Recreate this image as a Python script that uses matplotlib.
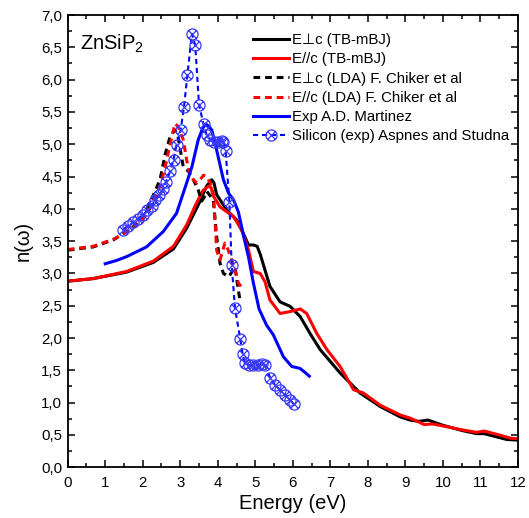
import matplotlib
matplotlib.use("Agg")
import matplotlib.pyplot as plt
from matplotlib.path import Path
from matplotlib.ticker import MultipleLocator, FuncFormatter

plt.rcParams['font.family'] = ['Liberation Sans', 'DejaVu Sans']
plt.rcParams['mathtext.fontset'] = 'custom'
plt.rcParams['mathtext.rm'] = 'Liberation Sans'
plt.rcParams['mathtext.it'] = 'Liberation Sans:italic'

# E perp c (TB-mBJ)
perp_x = [0, 0.68, 1.57, 2.28, 2.82, 3.17, 3.53, 3.70, 3.84, 3.90, 3.97, 4.24, 4.50, 4.68, 4.82,
          4.95, 5.05, 5.13, 5.39, 5.66, 5.93, 6.20, 6.46, 6.73, 7.26, 7.79, 8.33, 8.86, 9.13, 9.36,
          9.60, 9.80, 10.0, 10.5, 10.9, 11.1, 11.5, 11.7, 12.0]
perp_y = [2.88, 2.92, 3.02, 3.17, 3.38, 3.70, 4.12, 4.35, 4.45, 4.40, 4.22, 3.98, 3.83, 3.62, 3.44,
          3.44, 3.42, 3.30, 2.80, 2.56, 2.49, 2.33, 2.07, 1.82, 1.46, 1.15, 0.94, 0.78, 0.73, 0.71,
          0.73, 0.69, 0.65, 0.57, 0.52, 0.52, 0.46, 0.43, 0.42]

# E // c (TB-mBJ)
par_x = [0, 0.68, 1.57, 2.28, 2.82, 3.17, 3.40, 3.60, 3.75, 3.82, 3.88, 4.06, 4.42, 4.64, 4.82,
         4.95, 5.13, 5.26, 5.39, 5.66, 5.93, 6.20, 6.37, 6.64, 6.91, 7.26, 7.62, 7.88, 8.33, 8.86,
         9.13, 9.36, 9.50, 9.72, 10.0, 10.5, 10.9, 11.1, 11.5, 11.8, 12.0]
par_y = [2.88, 2.92, 3.03, 3.19, 3.42, 3.75, 4.05, 4.28, 4.35, 4.33, 4.20, 4.03, 3.88, 3.67, 3.36,
         3.03, 3.00, 2.87, 2.59, 2.38, 2.41, 2.45, 2.38, 2.07, 1.82, 1.56, 1.20, 1.15, 0.96, 0.81,
         0.76, 0.70, 0.66, 0.67, 0.64, 0.58, 0.54, 0.56, 0.50, 0.45, 0.44]

# E perp c (LDA) Chiker
lda_perp_x = [0, 0.68, 1.22, 1.57, 1.93, 2.19, 2.46, 2.60, 2.73, 2.86, 2.95, 3.08, 3.22, 3.35,
              3.48, 3.57, 3.64, 3.71, 3.80, 3.88, 3.97, 4.06, 4.15, 4.30, 4.40, 4.46, 4.52, 4.60]
lda_perp_y = [3.36, 3.41, 3.52, 3.65, 3.80, 4.09, 4.45, 4.85, 5.12, 5.22, 5.09, 4.65, 4.58, 4.45,
              4.29, 4.12, 4.18, 4.27, 4.20, 4.14, 3.57, 3.16, 3.00, 2.95, 3.05, 3.10, 2.85, 2.55]

# E // c (LDA) Chiker
lda_par_x = [0, 0.68, 1.22, 1.57, 1.93, 2.19, 2.46, 2.60, 2.73, 2.86, 2.95, 3.08, 3.17, 3.26,
             3.35, 3.44, 3.53, 3.62, 3.70, 3.80, 3.88, 3.93, 3.97, 4.06, 4.19, 4.28, 4.37, 4.46,
             4.55, 4.62]
lda_par_y = [3.37, 3.42, 3.53, 3.64, 3.78, 4.00, 4.35, 4.65, 5.00, 5.32, 5.27, 5.07, 4.76, 4.50,
             4.45, 4.40, 4.45, 4.52, 4.50, 4.40, 4.24, 3.78, 3.36, 3.21, 3.47, 3.36, 3.21, 3.05,
             2.85, 2.80]

# Exp A.D. Martinez
exp_x = [1.0, 1.3, 1.57, 2.1, 2.55, 2.9, 3.17, 3.31, 3.48, 3.60, 3.68, 3.76, 3.84, 3.97, 4.15,
         4.29, 4.42, 4.55, 4.70, 4.82, 4.95, 5.10, 5.30, 5.48, 5.75, 5.97, 6.19, 6.30, 6.44]
exp_y = [3.15, 3.20, 3.26, 3.41, 3.65, 3.93, 4.40, 4.65, 5.07, 5.25, 5.31, 5.28, 5.22, 4.91, 4.45,
         4.24, 4.14, 3.95, 3.55, 3.25, 2.85, 2.45, 2.20, 2.05, 1.71, 1.56, 1.53, 1.48, 1.41]

# Silicon (exp) Aspnes and Studna
si_x = [1.48, 1.62, 1.75, 1.88, 2.02, 2.12, 2.24, 2.33, 2.44, 2.53, 2.62, 2.73, 2.82, 2.90, 3.01,
        3.10, 3.19, 3.31, 3.40, 3.50, 3.62, 3.70, 3.80, 3.90, 4.00, 4.10, 4.15, 4.21, 4.31, 4.37,
        4.46, 4.60, 4.66, 4.72, 4.82, 4.95, 5.08, 5.17, 5.26, 5.40, 5.53, 5.66, 5.80, 5.93, 6.02]
si_y = [3.68, 3.74, 3.79, 3.85, 3.91, 3.98, 4.04, 4.13, 4.21, 4.30, 4.42, 4.58, 4.76, 4.99, 5.22,
        5.58, 6.07, 6.71, 6.53, 5.61, 5.31, 5.15, 5.07, 5.04, 5.03, 5.05, 5.04, 4.89, 4.10, 3.13,
        2.46, 1.98, 1.76, 1.62, 1.58, 1.58, 1.58, 1.60, 1.58, 1.38, 1.27, 1.20, 1.12, 1.04, 0.98]

labels = ['E\u22a5c (TB-mBJ)', 'E//c (TB-mBJ)', 'E\u22a5c (LDA) F. Chiker et al',
          'E//c (LDA) F. Chiker et al', 'Exp A.D. Martinez', 'Silicon (exp) Aspnes and Studna']

circ = Path.unit_circle()
cross = Path([(-0.707, -0.707), (0.707, 0.707), (-0.707, 0.707), (0.707, -0.707)],
             [Path.MOVETO, Path.LINETO, Path.MOVETO, Path.LINETO])
otimes = Path.make_compound_path(circ, cross)

fig = plt.figure(figsize=(5.29, 5.18), dpi=100)
ax = fig.add_axes([0.128, 0.098, 0.851, 0.873])

lw = 2.2
ax.plot(perp_x, perp_y, color='black', lw=lw, label=labels[0])
ax.plot(par_x, par_y, color='red', lw=lw, label=labels[1])
ax.plot(lda_perp_x, lda_perp_y, color='black', lw=lw, ls=(0, (2.2, 1.6)), label=labels[2])
ax.plot(lda_par_x, lda_par_y, color='red', lw=lw, ls=(0, (2.2, 1.6)), label=labels[3])
ax.plot(exp_x, exp_y, color='#0000ff', lw=lw, label=labels[4])
ax.plot(si_x, si_y, color='#0000ff', lw=1.5, ls=(0, (2.5, 1.8)), marker=otimes, ms=8,
        mfc='none', mec='#3a3aff', mew=0.9, label=labels[5])

ax.set_xlim(0, 12)
ax.set_ylim(0, 7)
ax.xaxis.set_major_locator(MultipleLocator(1))
ax.xaxis.set_minor_locator(MultipleLocator(0.5))
ax.yaxis.set_major_locator(MultipleLocator(0.5))
ax.yaxis.set_minor_locator(MultipleLocator(0.25))
ax.yaxis.set_major_formatter(FuncFormatter(lambda v, p: f'{v:.1f}'.replace('.', ',')))
ax.xaxis.set_major_formatter(FuncFormatter(lambda v, p: f'{v:.0f}'))
ax.tick_params(which='both', direction='in', top=True, right=True, labelsize=10.8, width=1.1)
ax.tick_params(which='major', length=5)
ax.tick_params(axis='x', which='major', pad=6)
ax.tick_params(axis='y', which='major', pad=4)
ax.tick_params(which='minor', length=2.8)
for s in ax.spines.values():
    s.set_linewidth(1.3)

ax.set_xlabel('Energy (eV)', fontsize=14.5, labelpad=3)
ax.set_ylabel('n(\u03c9)', fontsize=14.5, labelpad=6)

ax.text(0.027, 0.962, 'ZnSiP$_\\mathrm{2}$', transform=ax.transAxes, fontsize=14.5,
        ha='left', va='top')

ax.legend(loc='upper left', bbox_to_anchor=(0.412, 0.96), frameon=False, fontsize=10.8,
          handlelength=2.4, handletextpad=0.2, labelspacing=0.35, borderpad=0,
          borderaxespad=0, numpoints=1)

fig.savefig('out.png', dpi=100)
